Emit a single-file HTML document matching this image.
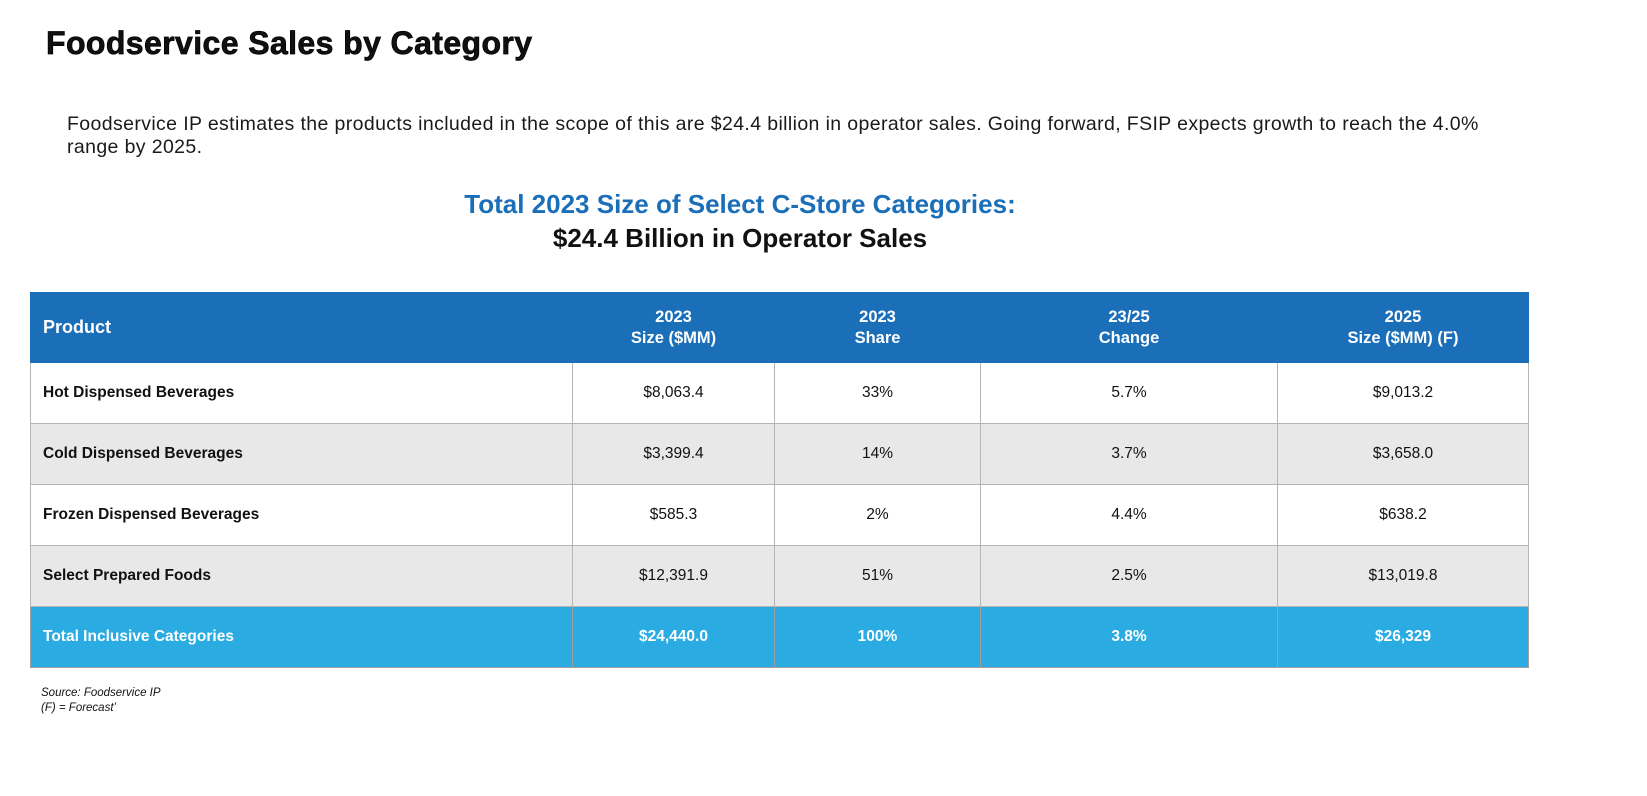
<!DOCTYPE html>
<html><head><meta charset="utf-8"><style>
body{margin:0;width:1647px;height:796px;background:#fff;position:relative;overflow:hidden;font-family:"Liberation Sans",sans-serif;color:#111}
.abs{position:absolute}
#title{left:46px;top:25px;font-size:32px;font-weight:900;letter-spacing:0.4px;-webkit-text-stroke:0.7px #000}
#para{left:67px;top:113px;font-size:19.5px;line-height:23px;width:1500px;letter-spacing:0.38px;color:#1a1a1a}
#sub1{left:0;width:1480px;top:189px;text-align:center;font-size:26px;font-weight:bold;color:#1b6fb8}
#sub2{left:0;width:1480px;top:223px;text-align:center;font-size:26px;font-weight:bold;color:#111}
table{position:absolute;left:30px;top:292px;width:1498px;border-collapse:collapse;table-layout:fixed}
td,th{border:1px solid #b5b5b5;font-size:15.5px;text-align:center;padding:0}
th{background:#1a6fb8;color:#fff;font-size:16.5px;font-weight:bold;height:69px;border-color:#1a6fb8;line-height:21px}
td{height:60px}
td.p{text-align:left;padding-left:12px;font-weight:bold}
th.p{text-align:left;padding-left:12px;font-size:18px}
tr.g td{background:#e8e8e8}
tr.t td{background:#2aace2;color:#fff;font-weight:bold;border-color:#a0a0a0}
#src{left:41px;top:686px;font-size:11.5px;font-style:italic;line-height:15px}
</style></head><body>
<div id="title" class="abs">Foodservice Sales by Category</div>
<div id="para" class="abs">Foodservice IP estimates the products included in the scope of this are $24.4 billion in operator sales. Going forward, FSIP expects growth to reach the 4.0%<br>range by 2025.</div>
<div id="sub1" class="abs">Total 2023 Size of Select C-Store Categories:</div>
<div id="sub2" class="abs">$24.4 Billion in Operator Sales</div>
<table>
<colgroup><col style="width:542px"><col style="width:202px"><col style="width:206px"><col style="width:297px"><col style="width:251px"></colgroup>
<tr><th class="p">Product</th><th>2023<br>Size ($MM)</th><th>2023<br>Share</th><th>23/25<br>Change</th><th>2025<br>Size ($MM) (F)</th></tr>
<tr><td class="p">Hot Dispensed Beverages</td><td>$8,063.4</td><td>33%</td><td>5.7%</td><td>$9,013.2</td></tr>
<tr class="g"><td class="p">Cold Dispensed Beverages</td><td>$3,399.4</td><td>14%</td><td>3.7%</td><td>$3,658.0</td></tr>
<tr><td class="p">Frozen Dispensed Beverages</td><td>$585.3</td><td>2%</td><td>4.4%</td><td>$638.2</td></tr>
<tr class="g"><td class="p">Select Prepared Foods</td><td>$12,391.9</td><td>51%</td><td>2.5%</td><td>$13,019.8</td></tr>
<tr class="t"><td class="p">Total Inclusive Categories</td><td>$24,440.0</td><td>100%</td><td>3.8%</td><td>$26,329</td></tr>
</table>
<div id="src" class="abs">Source: Foodservice IP<br>(F) = Forecast’</div>
</body></html>
